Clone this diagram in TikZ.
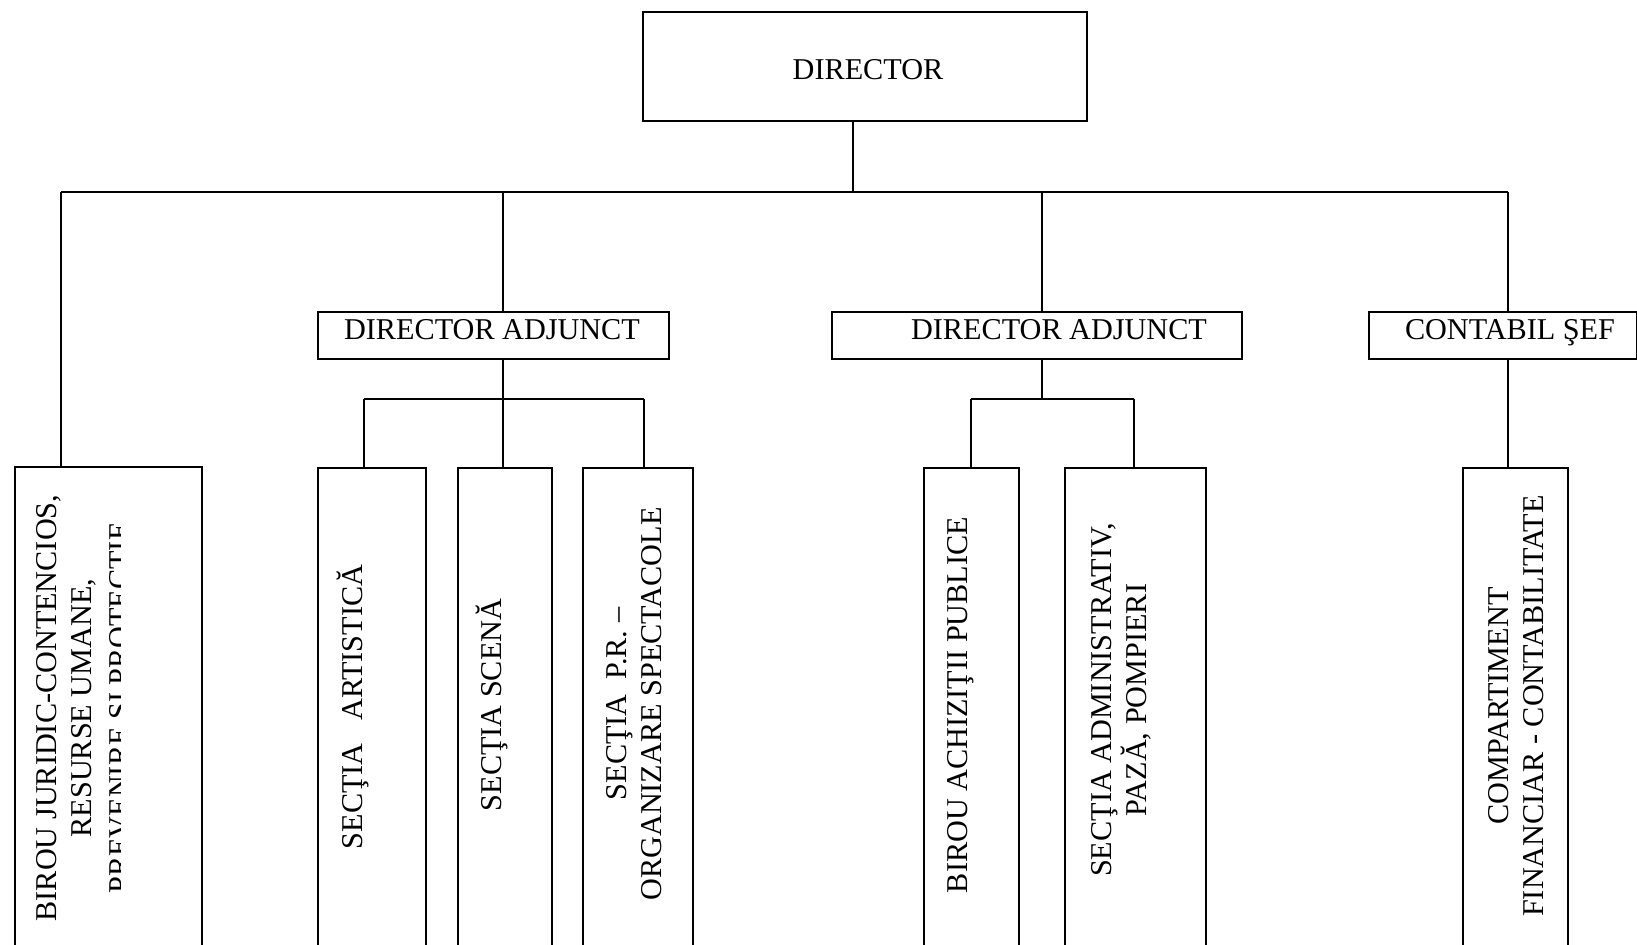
\documentclass[tikz,border=0pt]{standalone}
\usepackage{fontspec}
\setmainfont{Liberation Serif}
\begin{document}
\begin{tikzpicture}[x=1mm,y=-1mm,
  box/.style={draw, line width=0.5pt, inner sep=0pt},
  unit/.style={box, anchor=north, minimum height=49.4mm},
  vtext/.style={rotate=90, align=center, inner sep=0pt}]
\clip (0,0) rectangle (163.7,94.4);%
{\fontsize{8.6}{10}\selectfont
\linespread{1}

% Drawing top level boxes
\node (dir) [box, minimum width=44.4mm, minimum height=10.9mm] at (86.5,6.65) {};%
\node (dirtxt) at (86.8,7.0) {DIRECTOR};%
\node (da1) [box, minimum width=35.1mm, minimum height=4.7mm] at (49.35,33.55) {};%
\node (da1txt) at (49.2,33.0) {DIRECTOR ADJUNCT};%
\node (da2) [box, minimum width=41.0mm, minimum height=4.7mm] at (103.7,33.55) {};%
\node (da2txt) at (105.9,33.0) {DIRECTOR ADJUNCT};%
\node (cs) [box, minimum width=26.8mm, minimum height=4.7mm] at (150.3,33.55) {};%
\node (cstxt) at (151.0,33.3) {CONTABIL ŞEF};%

% Drawing bottom units
\node (birou) [unit, minimum width=18.7mm] at (10.85,46.6) {};%
\node (sa) [unit, minimum width=10.8mm] at (37.2,46.7) {};%
\node (ss) [unit, minimum width=9.4mm] at (50.5,46.7) {};%
\node (spr) [unit, minimum width=11.0mm] at (63.8,46.7) {};%
\node (bap) [unit, minimum width=9.5mm] at (97.15,46.7) {};%
\node (sap) [unit, minimum width=14.1mm] at (113.55,46.7) {};%
\node (comp) [unit, minimum width=10.5mm] at (151.55,46.7) {};%

% Drawing unit texts
\begin{scope}
\clip (1.5,46.6) rectangle (12.0,96);%
\node (biroutxt) [vtext] at (8.65,70.8) {BIROU JURIDIC-CONTENCIOS,\\ RESURSE UMANE,\\[0.3mm] PREVENIRE ŞI PROTECŢIE};%
\end{scope}
\node (satxt) [vtext] at (35.3,70.7) {SECŢIA\ \ \ ARTISTICĂ};%
\node (sstxt) [vtext] at (49.2,70.5) {SECŢIA SCENĂ};%
\node (sprtxt) [vtext] at (63.4,70.4) {SECŢIA\ \ P.R. –\\ ORGANIZARE SPECTACOLE};%
\node (baptxt) [vtext] at (96.1,70.5) {BIROU ACHIZIŢII PUBLICE};%
\node (saptxt) [vtext] at (112.1,70.0) {SECŢIA ADMINISTRATIV,\\ PAZĂ, POMPIERI};%
\node (comptxt) [vtext] at (151.6,70.6) {COMPARTIMENT\\ FINANCIAR - CONTABILITATE};%

% Drawing connectors
\coordinate (j0) at (85.3,19.2);%
\coordinate (busW) at (6.1,19.2);%
\coordinate (busE) at (150.8,19.2);%
\coordinate (j1) at (50.3,19.2);%
\coordinate (j2) at (104.2,19.2);%
\coordinate (s1W) at (36.4,39.9);%
\coordinate (s1E) at (64.4,39.9);%
\coordinate (s2W) at (97.1,39.9);%
\coordinate (s2E) at (113.4,39.9);%
\begin{scope}[line width=0.5pt]
\draw (dir.south -| j0) -- (j0);%
\draw (busW) -- (busE);%
\draw (busW) -- (birou.north -| busW);%
\draw (j1) -- (da1.north -| j1);%
\draw (da1.south -| j1) -- (ss.north -| j1);%
\draw (s1W) -- (s1E);%
\draw (s1W) -- (sa.north -| s1W);%
\draw (s1E) -- (spr.north -| s1E);%
\draw (j2) -- (da2.north -| j2);%
\draw (da2.south -| j2) -- (s2W -| j2);%
\draw (s2W) -- (s2E);%
\draw (s2W) -- (bap.north -| s2W);%
\draw (s2E) -- (sap.north -| s2E);%
\draw (busE) -- (cs.north -| busE);%
\draw (cs.south -| busE) -- (comp.north -| busE);%
\end{scope}
}
\end{tikzpicture}
\end{document}
